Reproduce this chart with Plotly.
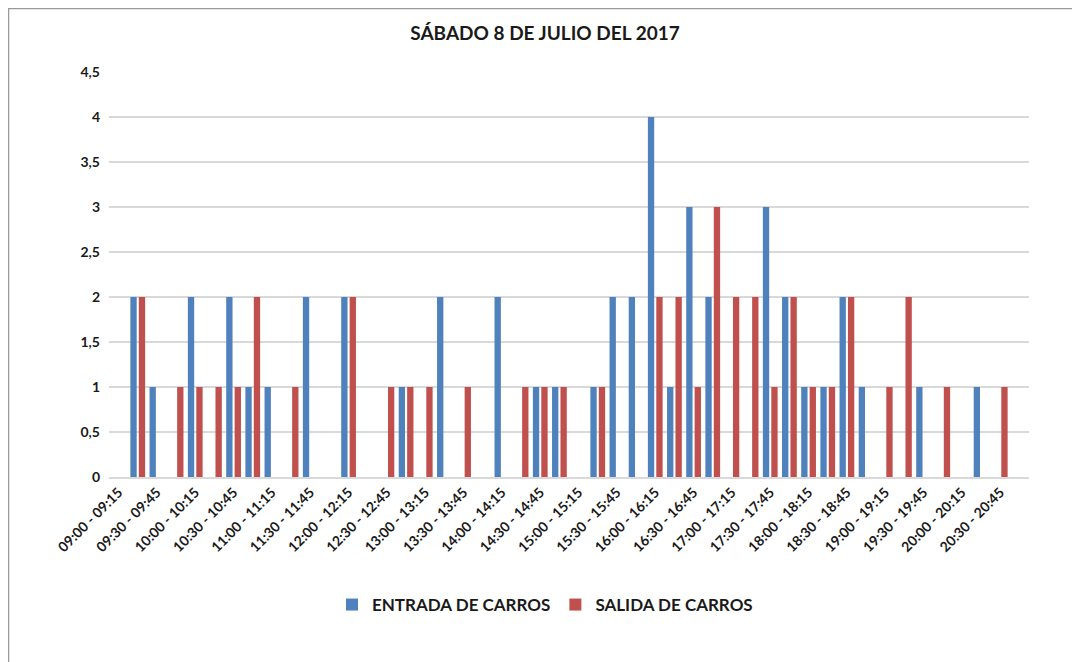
import plotly.graph_objects as go

categories = [
    "09:00 - 09:15", "09:15 - 09:30", "09:30 - 09:45", "09:45 - 10:00",
    "10:00 - 10:15", "10:15 - 10:30", "10:30 - 10:45", "10:45 - 11:00",
    "11:00 - 11:15", "11:15 - 11:30", "11:30 - 11:45", "11:45 - 12:00",
    "12:00 - 12:15", "12:15 - 12:30", "12:30 - 12:45", "12:45 - 13:00",
    "13:00 - 13:15", "13:15 - 13:30", "13:30 - 13:45", "13:45 - 14:00",
    "14:00 - 14:15", "14:15 - 14:30", "14:30 - 14:45", "14:45 - 15:00",
    "15:00 - 15:15", "15:15 - 15:30", "15:30 - 15:45", "15:45 - 16:00",
    "16:00 - 16:15", "16:15 - 16:30", "16:30 - 16:45", "16:45 - 17:00",
    "17:00 - 17:15", "17:15 - 17:30", "17:30 - 17:45", "17:45 - 18:00",
    "18:00 - 18:15", "18:15 - 18:30", "18:30 - 18:45", "18:45 - 19:00",
    "19:00 - 19:15", "19:15 - 19:30", "19:30 - 19:45", "19:45 - 20:00",
    "20:00 - 20:15", "20:15 - 20:30", "20:30 - 20:45", "20:45 - 21:00",
]

entrada = [0, 2, 1, 0, 2, 0, 2, 1, 1, 0,
           2, 0, 2, 0, 0, 1, 0, 2, 0, 0,
           2, 0, 1, 1, 0, 1, 2, 2, 4, 1,
           3, 2, 0, 0, 3, 2, 1, 1, 2, 1,
           0, 0, 1, 0, 0, 1, 0, 0]

salida = [0, 2, 0, 1, 1, 1, 1, 2, 0, 1,
          0, 0, 2, 0, 1, 1, 1, 0, 1, 0,
          0, 1, 1, 1, 0, 1, 0, 0, 2, 2,
          1, 3, 2, 2, 1, 2, 1, 1, 2, 0,
          1, 2, 0, 1, 0, 0, 1, 0]

tick_labels = categories[::2]
y_ticks = [0, 0.5, 1, 1.5, 2, 2.5, 3, 3.5, 4, 4.5]
y_tick_text = ["0", "0,5", "1", "1,5", "2", "2,5", "3", "3,5", "4", "4,5"]

FONT = "Lato"
TXT = "#1a1a1a"

fig = go.Figure()
fig.add_trace(go.Bar(x=categories, y=entrada, name="<b>ENTRADA DE CARROS</b>",
                     marker=dict(color="#4F81BD", line=dict(width=0))))
fig.add_trace(go.Bar(x=categories, y=salida, name="<b>SALIDA DE CARROS</b>",
                     marker=dict(color="#C0504D", line=dict(width=0))))

# page is offset by the 8px body margin; work in page pixels
OFF = 8
W, H = 1080, 662
plot_left, plot_right, plot_top, plot_bottom = 109, 1029, 72, 477
L = plot_left - OFF
T = plot_top - OFF
R = W - (plot_right - OFF)
B = H - (plot_bottom - OFF)
pw, ph = W - L - R, H - T - B

def px_x(p):
    return (p - OFF - L) / pw

def px_y(p):
    return (H - B - (p - OFF)) / ph

fig.update_layout(
    width=W, height=H,
    margin=dict(l=L, r=R, t=T, b=B, autoexpand=False),
    paper_bgcolor="white", plot_bgcolor="white",
    barmode="group", bargap=0.12, bargroupgap=0.25,
    font=dict(family=FONT, color=TXT),
    title=dict(text="<b>SÁBADO 8 DE JULIO DEL 2017</b>", x=(545 - OFF) / W,
               xanchor="center", y=1 - (33 - OFF) / H, yanchor="middle",
               font=dict(family=FONT, size=19, color=TXT)),
    xaxis=dict(type="category", tickmode="array", tickvals=tick_labels,
               ticktext=["<b>%s</b>" % t for t in tick_labels],
               tickangle=-45, tickfont=dict(family=FONT, size=14, color=TXT),
               showgrid=False, showline=True, linecolor="#D9D9D9", linewidth=1.5,
               ticks="", range=[-0.5, len(categories) - 0.5]),
    yaxis=dict(range=[0, 4.5], tickmode="array", tickvals=y_ticks,
               ticktext=["<b>%s</b>" % t for t in y_tick_text],
               tickfont=dict(family=FONT, size=14, color=TXT),
               showgrid=True, gridcolor="#D9D9D9", gridwidth=1.5,
               zeroline=False, showline=False, ticks="", ticklabelstandoff=8),
    legend=dict(orientation="h", x=px_x(545), xanchor="center",
                y=px_y(605), yanchor="middle",
                font=dict(family=FONT, size=17, color=TXT),
                itemwidth=30, tracegroupgap=0),
    shapes=[
        dict(type="line", xref="paper", yref="paper",
             x0=px_x(8), x1=px_x(1080), y0=px_y(8.5), y1=px_y(8.5),
             line=dict(color="#9a9a9a", width=1.5)),
        dict(type="line", xref="paper", yref="paper",
             x0=px_x(8.5), x1=px_x(8.5), y0=px_y(8), y1=px_y(670),
             line=dict(color="#9a9a9a", width=1.5)),
    ],
)

fig.write_html("out.html")
